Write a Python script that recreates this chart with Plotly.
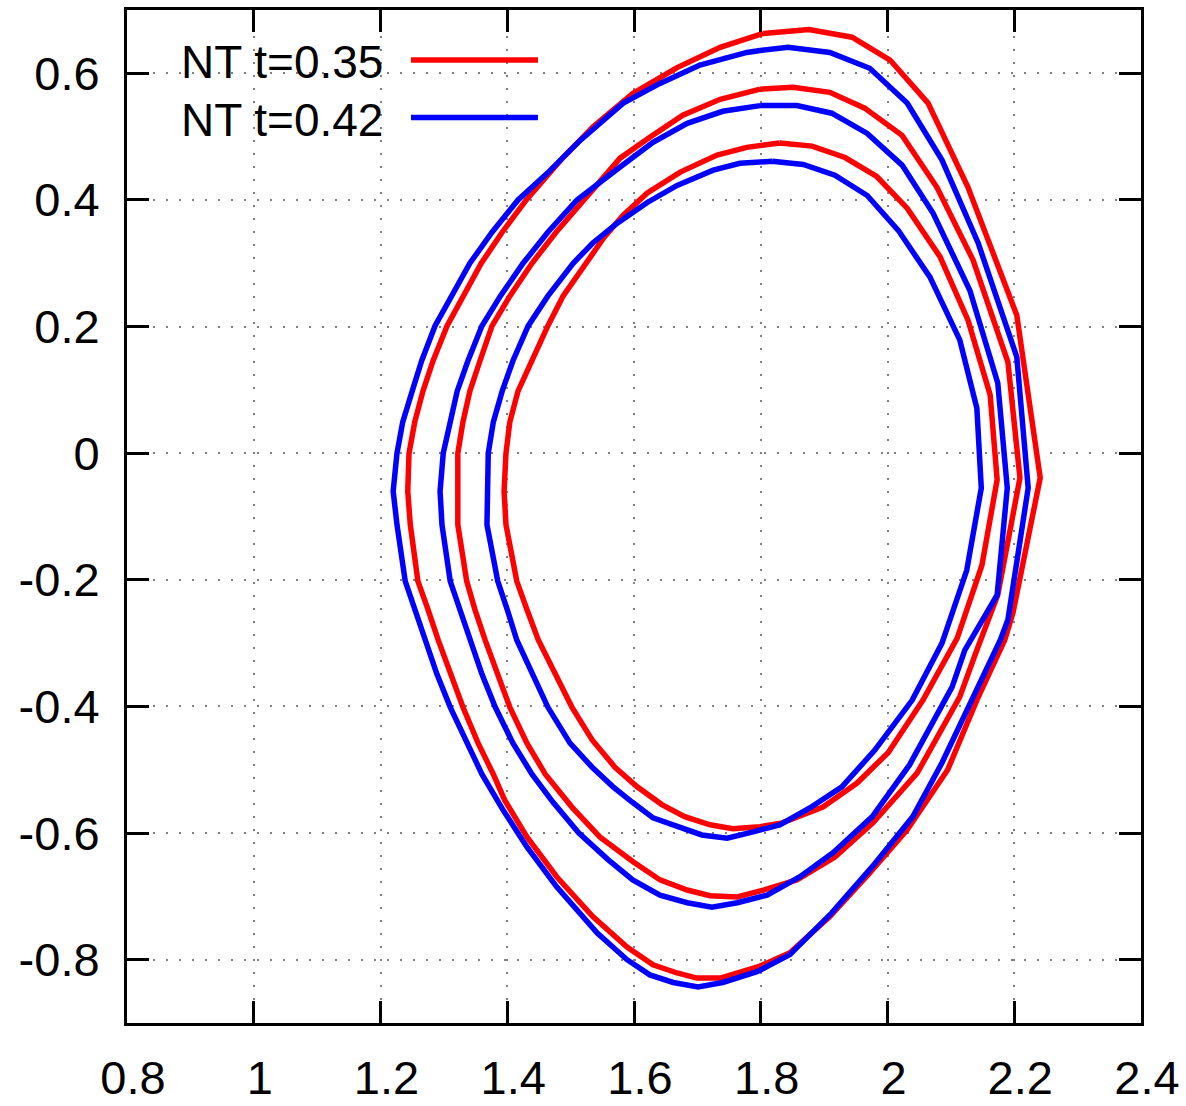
import plotly.graph_objects as go

# ---- data (R, Z) ----
# NT t=0.35 (red) : outer, middle, inner flux surfaces
red_outer_x = [1.804, 1.876, 1.944, 2.004, 2.064, 2.127, 2.204, 2.241, 2.198, 2.185, 2.141, 2.095, 2.031, 1.972,
               1.909, 1.846, 1.799, 1.736, 1.699, 1.668, 1.630, 1.589, 1.535, 1.478, 1.431,
               1.396, 1.378, 1.354, 1.330, 1.310, 1.291, 1.275, 1.259, 1.247, 1.243, 1.245, 1.254, 1.267, 1.283,
               1.305, 1.330, 1.359, 1.392, 1.430, 1.488, 1.535, 1.598, 1.668, 1.736, 1.804]
red_outer_y = [0.663, 0.669, 0.657, 0.621, 0.553, 0.420, 0.218, -0.039, -0.252, -0.295, -0.390, -0.500, -0.595, -0.663,
               -0.732, -0.789, -0.810, -0.829, -0.829, -0.821, -0.808, -0.780, -0.732, -0.669, -0.606,
               -0.548, -0.507, -0.458, -0.401, -0.349, -0.295, -0.247, -0.202, -0.113, -0.060, 0.000, 0.049, 0.098, 0.146,
               0.201, 0.248, 0.300, 0.349, 0.400, 0.467, 0.515, 0.568, 0.609, 0.641, 0.663]

red_mid_x = [1.799, 1.851, 1.909, 1.964, 2.023, 2.078, 2.135, 2.190, 2.209, 2.174, 2.141, 2.114, 2.047, 1.977,
             1.917, 1.857, 1.804, 1.763, 1.720, 1.684, 1.641, 1.598, 1.546, 1.502, 1.460, 1.431, 1.404, 1.384,
             1.365, 1.349, 1.336, 1.322, 1.321, 1.322, 1.330, 1.341, 1.357, 1.376, 1.404, 1.439, 1.477, 1.520,
             1.578, 1.625, 1.677, 1.736, 1.799]
red_mid_y = [0.575, 0.578, 0.570, 0.545, 0.502, 0.420, 0.305, 0.144, -0.039, -0.224, -0.311, -0.385, -0.505, -0.584,
             -0.638, -0.674, -0.690, -0.701, -0.699, -0.690, -0.674, -0.645, -0.606, -0.559, -0.507, -0.458, -0.401, -0.349,
             -0.295, -0.247, -0.202, -0.113, -0.060, 0.000, 0.049, 0.098, 0.146, 0.201, 0.248, 0.300, 0.349, 0.400,
             0.466, 0.499, 0.534, 0.559, 0.575]

red_inner_x = [1.830, 1.881, 1.933, 1.983, 2.031, 2.083, 2.127, 2.162, 2.173, 2.149, 2.110, 2.056, 2.001, 1.952,
               1.898, 1.834, 1.799, 1.756, 1.720, 1.680, 1.644, 1.605, 1.570, 1.534, 1.502, 1.475, 1.449, 1.431,
               1.415, 1.398, 1.395, 1.398, 1.404, 1.417, 1.439, 1.464, 1.488, 1.523, 1.553, 1.583, 1.621, 1.673,
               1.731, 1.778, 1.830]
red_inner_y = [0.490, 0.485, 0.467, 0.437, 0.387, 0.310, 0.210, 0.092, -0.042, -0.177, -0.292, -0.390, -0.473, -0.521,
               -0.559, -0.584, -0.590, -0.593, -0.587, -0.574, -0.555, -0.527, -0.496, -0.453, -0.401, -0.349, -0.295, -0.247,
               -0.202, -0.113, -0.060, 0.000, 0.049, 0.098, 0.146, 0.201, 0.248, 0.300, 0.341, 0.376, 0.411, 0.444,
               0.471, 0.483, 0.490]

# NT t=0.42 (blue)
blue_outer_x = [1.799, 1.843, 1.909, 1.972, 2.031, 2.086, 2.143, 2.204, 2.222, 2.190, 2.178, 2.133, 2.107, 2.086,
                2.040, 1.976, 1.912, 1.846, 1.794, 1.740, 1.701, 1.662, 1.625, 1.589, 1.542, 1.478, 1.431, 1.393,
                1.360, 1.336, 1.310, 1.289, 1.270, 1.254, 1.239, 1.226, 1.220, 1.226, 1.235, 1.250, 1.265, 1.286,
                1.311, 1.341, 1.376, 1.417, 1.463, 1.515, 1.583, 1.641, 1.704, 1.778, 1.799]
blue_outer_y = [0.636, 0.641, 0.633, 0.608, 0.553, 0.463, 0.332, 0.152, -0.055, -0.263, -0.295, -0.390, -0.448, -0.489,
                -0.574, -0.653, -0.726, -0.792, -0.819, -0.836, -0.843, -0.836, -0.824, -0.800, -0.758, -0.685, -0.622, -0.563,
                -0.507, -0.458, -0.401, -0.349, -0.295, -0.247, -0.202, -0.113, -0.060, 0.000, 0.049, 0.098, 0.146, 0.201,
                0.248, 0.300, 0.349, 0.400, 0.442, 0.494, 0.553, 0.584, 0.613, 0.633, 0.636]

blue_mid_x = [1.799, 1.857, 1.912, 1.968, 2.023, 2.072, 2.130, 2.174, 2.189, 2.173, 2.122, 2.102, 2.035, 1.976,
              1.914, 1.862, 1.810, 1.763, 1.723, 1.684, 1.641, 1.598, 1.559, 1.513, 1.472, 1.439, 1.409, 1.381,
              1.360, 1.341, 1.325, 1.310, 1.297, 1.294, 1.299, 1.310, 1.321, 1.338, 1.360, 1.389, 1.425, 1.464,
              1.510, 1.578, 1.630, 1.684, 1.740, 1.799]
blue_mid_y = [0.549, 0.549, 0.537, 0.505, 0.455, 0.379, 0.257, 0.111, -0.055, -0.224, -0.311, -0.369, -0.492, -0.574,
              -0.631, -0.669, -0.698, -0.710, -0.717, -0.710, -0.698, -0.674, -0.642, -0.600, -0.551, -0.507, -0.458, -0.401,
              -0.349, -0.295, -0.247, -0.202, -0.113, -0.060, 0.000, 0.049, 0.098, 0.146, 0.201, 0.248, 0.300, 0.349,
              0.400, 0.452, 0.491, 0.521, 0.540, 0.549]

blue_inner_x = [1.818, 1.867, 1.917, 1.968, 2.017, 2.067, 2.114, 2.141, 2.148, 2.125, 2.086, 2.039, 1.980, 1.928,
                1.878, 1.830, 1.788, 1.747, 1.707, 1.668, 1.630, 1.597, 1.567, 1.534, 1.499, 1.464, 1.439, 1.415,
                1.400, 1.385, 1.368, 1.368, 1.370, 1.378, 1.392, 1.409, 1.433, 1.464, 1.504, 1.535, 1.573, 1.621,
                1.668, 1.725, 1.767, 1.818]
blue_inner_y = [0.461, 0.456, 0.439, 0.407, 0.352, 0.278, 0.179, 0.071, -0.055, -0.185, -0.300, -0.390, -0.469, -0.527,
                -0.560, -0.587, -0.598, -0.608, -0.603, -0.590, -0.576, -0.551, -0.527, -0.496, -0.458, -0.401, -0.349, -0.295,
                -0.247, -0.202, -0.113, -0.060, 0.000, 0.049, 0.098, 0.146, 0.201, 0.248, 0.300, 0.332, 0.363, 0.396,
                0.423, 0.447, 0.458, 0.461]

series_labels = ["NT t=0.35", "NT t=0.42"]
series_colors = ["#ff0000", "#0000ff"]

x_ticks = [0.8, 1.0, 1.2, 1.4, 1.6, 1.8, 2.0, 2.2, 2.4]
x_tick_text = ["0.8", "1", "1.2", "1.4", "1.6", "1.8", "2", "2.2", "2.4"]
y_ticks = [-0.8, -0.6, -0.4, -0.2, 0.0, 0.2, 0.4, 0.6]
y_tick_text = ["-0.8", "-0.6", "-0.4", "-0.2", "0", "0.2", "0.4", "0.6"]

FONT = "Liberation Sans, Arial, sans-serif"

fig = go.Figure()
contours = [
    [(red_outer_x, red_outer_y), (red_mid_x, red_mid_y), (red_inner_x, red_inner_y)],
    [(blue_outer_x, blue_outer_y), (blue_mid_x, blue_mid_y), (blue_inner_x, blue_inner_y)],
]
for label, color, group in zip(series_labels, series_colors, contours):
    for xs, ys in group:
        fig.add_trace(go.Scatter(x=xs, y=ys, mode="lines", name=label,
                                 line=dict(color=color, width=5.5), showlegend=False,
                                 hoverinfo="skip"))

# gnuplot-style opaque key: text on the left, sample line on the right
fig.add_shape(type="rect", xref="paper", yref="paper", x0=0.0, x1=0.427, y0=0.862, y1=1.0,
              fillcolor="white", line=dict(width=0), layer="between")
key_y = [0.9487, 0.8919]
for label, color, ky in zip(series_labels, series_colors, key_y):
    fig.add_annotation(xref="paper", yref="paper", x=0.2544, y=ky, text=label,
                       showarrow=False, xanchor="right", yanchor="middle",
                       font=dict(family=FONT, size=46, color="black"))
    fig.add_shape(type="line", xref="paper", yref="paper", x0=0.2801, x1=0.4053, y0=ky + 0.002, y1=ky + 0.002,
                  line=dict(color=color, width=5.5))

axis_common = dict(
    showline=True, linecolor="black", linewidth=3, mirror="allticks",
    ticks="inside", ticklen=22, tickwidth=2.5, tickcolor="black",
    showgrid=True, gridcolor="#808080", gridwidth=1.5, griddash="2px,11px",
    zeroline=False, automargin=False, tickfont=dict(family=FONT, size=47, color="black"),
)
fig.update_xaxes(range=[0.8, 2.4], tickvals=x_ticks, ticktext=x_tick_text,
                 ticklabelstandoff=12, ticklabelshift=6, **axis_common)
fig.update_yaxes(range=[-0.9, 0.7], tickvals=y_ticks, ticktext=y_tick_text,
                 ticklabelstandoff=15, **axis_common)

fig.update_layout(
    width=1186, height=1106,
    margin=dict(l=127, r=45, t=10, b=83),
    plot_bgcolor="white", paper_bgcolor="white",
    showlegend=False,
    font=dict(family=FONT, size=47, color="black"),
)

fig.write_html("out.html")
